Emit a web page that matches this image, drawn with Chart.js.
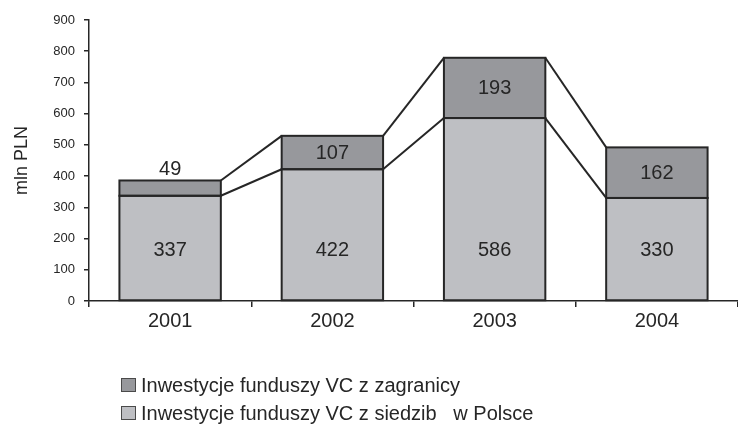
<!DOCTYPE html>
<html><head><meta charset="utf-8">
<script src="https://cdn.jsdelivr.net/npm/chart.js@4/dist/chart.umd.min.js"></script>
<style>html,body{margin:0;padding:0;background:#fff}#wrap{width:738px;height:431px;position:relative}</style>
</head><body><div id="wrap"><canvas id="c" width="738" height="431"></canvas></div>
<script>
const categories = ['2001', '2002', '2003', '2004'];
const domestic = [337, 422, 586, 330];
const foreign = [49, 107, 193, 162];
const seriesNames = ['Inwestycje funduszy VC z siedzib   w Polsce', 'Inwestycje funduszy VC z zagranicy'];
const yMin = 0, yMax = 900, yStep = 100;
const yTitle = 'mln PLN';

const INK = '#262626';
const FONT = '"Liberation Sans", Arial, sans-serif';

const outlinePlugin = {
  id: 'outlines',
  afterDatasetsDraw(chart) {
    const ctx = chart.ctx;
    ctx.save();
    ctx.strokeStyle = INK; ctx.lineWidth = 2; ctx.lineJoin = 'miter';
    chart.data.datasets.forEach((ds, di) => {
      chart.getDatasetMeta(di).data.forEach(b => {
        const l = b.x - b.width / 2, r = b.x + b.width / 2;
        ctx.strokeRect(l, b.y, r - l, b.base - b.y);
      });
    });
    chart.data.datasets.forEach((ds, di) => {
      const els = chart.getDatasetMeta(di).data;
      for (let i = 0; i < els.length - 1; i++) {
        const a = els[i], b = els[i + 1];
        ctx.beginPath();
        ctx.moveTo(a.x + a.width / 2, a.y);
        ctx.lineTo(b.x - b.width / 2, b.y);
        ctx.stroke();
      }
    });
    ctx.restore();
  }
};

const labelPlugin = {
  id: 'vlabels',
  afterDatasetsDraw(chart) {
    const ctx = chart.ctx;
    const yS = chart.scales.y;
    ctx.save();
    ctx.font = '20px ' + FONT;
    ctx.fillStyle = INK; ctx.textAlign = 'center'; ctx.textBaseline = 'middle';
    const lowY = yS.getPixelForValue(Math.min(...domestic) / 2);
    chart.getDatasetMeta(0).data.forEach((b, i) => {
      ctx.fillText(String(domestic[i]), b.x, lowY + 1);
    });
    chart.getDatasetMeta(1).data.forEach((b, i) => {
      const h = b.base - b.y;
      const y = h < 24 ? b.y - 12 : (b.y + b.base) / 2;
      ctx.fillText(String(foreign[i]), b.x, y + 1);
    });
    ctx.restore();
  }
};

const legendPlugin = {
  id: 'stackLegend',
  afterDraw(chart) {
    const ctx = chart.ctx;
    const order = [1, 0];
    ctx.save();
    ctx.font = '20px ' + FONT;
    ctx.textAlign = 'left'; ctx.textBaseline = 'middle';
    order.forEach((di, k) => {
      const ds = chart.data.datasets[di];
      const cy = chart.chartArea.bottom + 84 + 28 * k;
      ctx.fillStyle = ds.backgroundColor;
      ctx.fillRect(121, cy - 7, 15, 14);
      ctx.strokeStyle = '#4a4a4a'; ctx.lineWidth = 1;
      ctx.strokeRect(121.5, cy - 6.5, 14, 13);
      ctx.fillStyle = INK;
      ctx.fillText(ds.label, 141, cy + 1);
    });
    ctx.restore();
  }
};

new Chart(document.getElementById('c'), {
  type: 'bar',
  data: {
    labels: categories,
    datasets: [
      { label: seriesNames[0], data: domestic, backgroundColor: '#bebfc3', borderWidth: 0 },
      { label: seriesNames[1], data: foreign, backgroundColor: '#97989c', borderWidth: 0 }
    ]
  },
  options: {
    responsive: false,
    animation: false,
    layout: { padding: { top: 20, right: 0, bottom: 90, left: 0 } },
    datasets: { bar: { categoryPercentage: 1, barPercentage: 0.625 } },
    plugins: { legend: { display: false }, tooltip: { enabled: false } },
    scales: {
      x: {
        stacked: true,
        grid: { offset: true, drawOnChartArea: false, tickLength: 6, color: INK, lineWidth: 1.5 },
        border: { color: INK, width: 1.5 },
        ticks: { font: { family: FONT, size: 20 }, color: INK, padding: 2 },
        afterFit(s) { s.height = 40; }
      },
      y: {
        stacked: true,
        min: yMin, max: yMax,
        ticks: { stepSize: yStep, font: { family: FONT, size: 13 }, color: INK, padding: 9 },
        grid: { drawOnChartArea: false, tickLength: 5, color: INK, lineWidth: 1.5 },
        border: { color: INK, width: 1.5 },
        title: { display: true, text: yTitle, font: { family: FONT, size: 18 }, color: INK, padding: { top: 11, bottom: 0 } },
        afterFit(s) { s.width = 89; }
      }
    }
  },
  plugins: [outlinePlugin, labelPlugin, legendPlugin]
});
</script>
</body></html>
